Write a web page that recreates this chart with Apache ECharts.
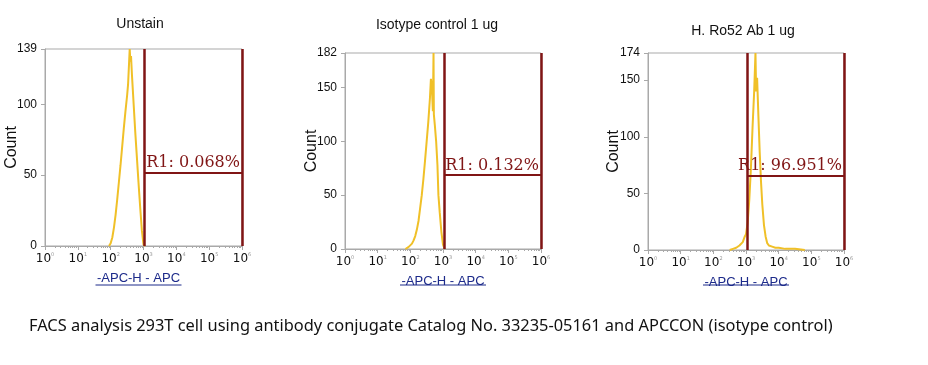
<!DOCTYPE html>
<html>
<head>
<meta charset="utf-8">
<script src="https://cdn.jsdelivr.net/npm/echarts@6/dist/echarts.min.js"></script>
<style>html,body{margin:0;padding:0;background:#fff;}#c{width:928px;height:365px;}</style>
</head>
<body>
<div id="c"></div>
<script>
// ---- data (x values are log10 of APC-H intensity) ----
const panelTitles = ['Unstain', 'Isotype control 1 ug', 'H. Ro52 Ab 1 ug'];
const yMaxes = [139, 182, 174];
const xTickExponents = [0, 1, 2, 3, 4, 5, 6];

const unstainExp   = [1.95,2.00,2.05,2.10,2.15,2.20,2.25,2.30,2.35,2.40,2.45,2.50,2.53,2.55,2.58,2.60,2.62,2.65,2.70,2.75,2.80,2.85,2.90,2.95,3.00,3.05];
const unstainCount = [0,2,6,13,22,33,45,57,70,83,95,106,114,124,139,130,134,120,100,80,62,44,27,11,1,0];

const isotypeExp   = [1.85,1.90,1.95,2.00,2.05,2.10,2.15,2.20,2.25,2.30,2.35,2.40,2.45,2.50,2.55,2.60,2.63,2.66,2.69,2.71,2.72,2.75,2.79,2.83,2.86,2.90,2.95,3.00,3.05];
const isotypeCount = [0,1,2,3,5,8,12,18,26,38,50,65,82,100,118,140,158,150,128,182,125,115,100,78,50,34,16,4,0];

const ro52Exp   = [2.50,2.60,2.70,2.80,2.90,2.95,3.00,3.05,3.10,3.15,3.20,3.25,3.29,3.31,3.34,3.38,3.42,3.46,3.50,3.55,3.60,3.65,3.70,3.80,3.90,4.00,4.20,4.50,4.80];
const ro52Count = [0,1,2,4,7,11,14,24,44,72,108,140,174,140,152,118,86,60,40,22,12,6,4,3,2,2,1,1,0];

const gateLowExp = [3.02, 3.03, 3.03];
const gateHighExp = [6, 6, 6];
const gateLevel = [52, 69, 66];
const gateLabels = ['R1: 0.068%', 'R1: 0.132%', 'R1: 96.951%'];

const caption = 'FACS analysis 293T cell using antibody conjugate Catalog No. 33235-05161 and APCCON (isotype control)';

// ---- layout ----
const grids = [
  {left: 45, top: 49, width: 197, height: 197},
  {left: 345, top: 53, width: 196, height: 196},
  {left: 648, top: 53, width: 196, height: 197}
];
const titlePos = [[140, 24], [437, 25], [743, 31]];
const countGap = [25, 25, 26];
const exps = [unstainExp, isotypeExp, ro52Exp];
const counts = [unstainCount, isotypeCount, ro52Count];

const GATE = '#801515';
const HIST = '#f0c028';
const FRAME = '#a9a9a9';

const option = {
  animation: false,
  backgroundColor: '#fff',
  grid: [],
  xAxis: [],
  yAxis: [],
  series: [],
  graphic: []
};

grids.forEach((g, i) => {
  option.grid.push({left: g.left, top: g.top, width: g.width, height: g.height,
    containLabel: false, outerBoundsMode: 'none',
    show: true, borderColor: FRAME, borderWidth: 1, backgroundColor: '#fff'});
  option.graphic.push({
    type: 'text', x: titlePos[i][0], y: titlePos[i][1],
    style: {text: panelTitles[i], align: 'center', verticalAlign: 'middle',
      font: '14px "Liberation Sans"', fill: '#111'}
  });
  option.xAxis.push({
    type: 'log', logBase: 10, gridIndex: i, min: 1, max: 1e6, interval: 1,
    axisLine: {show: true, lineStyle: {color: FRAME, width: 1}},
    axisTick: {show: true, length: 4, lineStyle: {color: FRAME}},
    minorTick: {show: true, splitNumber: 9, length: 2, lineStyle: {color: FRAME}},
    splitLine: {show: false},
    axisLabel: {
      margin: 6, color: '#111',
      formatter: v => '{a|10}{s|' + Math.round(Math.log10(v)) + '}',
      rich: {
        a: {fontFamily: 'DejaVu Sans', fontSize: 12, color: '#111', lineHeight: 14},
        s: {fontFamily: 'DejaVu Sans', fontSize: 5, color: '#999', verticalAlign: 'top', lineHeight: 6}
      }
    },
    name: '-APC-H - APC', nameLocation: 'middle', nameGap: 26, nameMoveOverlap: false,
    nameTextStyle: {fontFamily: 'Liberation Sans', fontSize: 13, color: '#1c2a8a', padding: i === 0 ? [0, 10, 0, 0] : 0}
  });
  option.yAxis.push({
    type: 'value', gridIndex: i, min: 0, max: yMaxes[i], interval: 50,
    axisLine: {show: true, lineStyle: {color: FRAME, width: 1}},
    axisTick: {show: true, length: 4, lineStyle: {color: FRAME}},
    splitLine: {show: false},
    axisLabel: {showMaxLabel: true, margin: 8, color: '#111', fontFamily: 'Liberation Sans', fontSize: 12},
    name: 'Count', nameLocation: 'middle', nameGap: countGap[i], nameRotate: 90, nameMoveOverlap: false,
    nameTextStyle: {fontFamily: 'Liberation Sans', fontSize: 16, color: '#111'}
  });
  option.series.push({
    type: 'line', xAxisIndex: i, yAxisIndex: i, symbol: 'none', z: 2,
    lineStyle: {color: HIST, width: 2},
    data: exps[i].map((e, k) => [Math.pow(10, e), counts[i][k]])
  });
  const lo = Math.pow(10, gateLowExp[i]);
  const hi = Math.pow(10, gateHighExp[i]);
  option.series.push({
    type: 'line', xAxisIndex: i, yAxisIndex: i, symbol: 'none', z: 5, data: [],
    markLine: {
      silent: true, symbol: 'none', animation: false,
      lineStyle: {color: GATE, width: 2.5, type: 'solid'},
      label: {show: false},
      data: [
        [{coord: [lo, 0]}, {coord: [lo, yMaxes[i]]}],
        [{coord: [hi, 0]}, {coord: [hi, yMaxes[i]]}],
        [{coord: [lo, gateLevel[i]], lineStyle: {width: 2}, label: {
          show: true, position: 'insideEndTop', distance: [2, 1], formatter: gateLabels[i],
          fontFamily: 'DejaVu Serif', fontSize: 16, color: GATE}},
         {coord: [hi, gateLevel[i]]}]
      ]
    }
  });
  const cx = g.left + g.width / 2 - (i === 0 ? 5 : 0);
  option.graphic.push({
    type: 'line', shape: {x1: cx - 43, y1: 285, x2: cx + 43, y2: 285},
    style: {stroke: '#1c2a8a', lineWidth: 1}
  });
});

option.graphic.push({
  type: 'text', x: 29, y: 326,
  style: {text: caption, align: 'left', verticalAlign: 'middle',
    font: '16.4px "Noto Sans"', fill: '#111'}
});

const chart = echarts.init(document.getElementById('c'), null, {renderer: 'canvas'});
chart.setOption(option);
</script>
</body>
</html>
